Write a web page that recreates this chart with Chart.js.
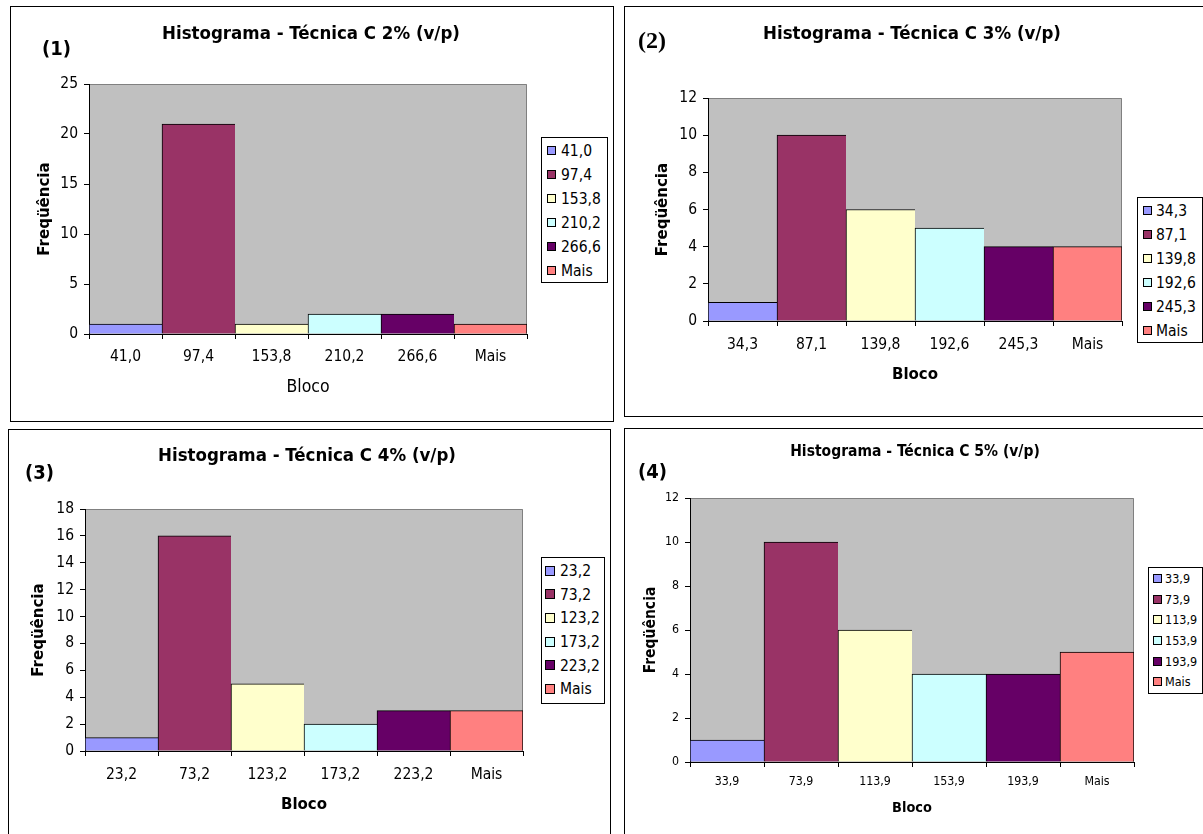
<!DOCTYPE html>
<html>
<head>
<meta charset="utf-8">
<script src="https://cdn.jsdelivr.net/npm/chart.js@4"></script>
<style>
  body { margin: 0; background: #fff; width: 1203px; height: 834px; overflow: hidden; position: relative; font-family: "DejaVu Sans Condensed", "DejaVu Sans", sans-serif; color: #000; }
  .panel { position: absolute; border: 1px solid #000; box-sizing: border-box; }
  .panel canvas { position: absolute; left: -1px; top: -1px; }
  .titulo { position: absolute; font-weight: bold; white-space: nowrap; line-height: 1; transform: translate(-50%, -50%); }
  .num { position: absolute; font-weight: bold; white-space: nowrap; line-height: 1; transform: translateY(-50%); }
  .legenda { position: absolute; border: 1px solid #000; background: #fff; box-sizing: border-box; }
  .legenda div { white-space: nowrap; }
  .legenda span { display: inline-block; border: 1px solid #000; box-sizing: border-box; vertical-align: middle; position: relative; top: -1px; }
</style>
</head>
<body>
<script>
// cores padrão do Excel para cada bloco
const cores = ['#9999FF', '#993366', '#FFFFCC', '#CCFFFF', '#660066', '#FF8080'];

const blocos1 = ['41,0', '97,4', '153,8', '210,2', '266,6', 'Mais'];
const freq1 = [1, 21, 1, 2, 2, 1];

const blocos2 = ['34,3', '87,1', '139,8', '192,6', '245,3', 'Mais'];
const freq2 = [1, 10, 6, 5, 4, 4];

const blocos3 = ['23,2', '73,2', '123,2', '173,2', '223,2', 'Mais'];
const freq3 = [1, 16, 5, 2, 3, 3];

const blocos4 = ['33,9', '73,9', '113,9', '153,9', '193,9', 'Mais'];
const freq4 = [1, 10, 6, 4, 4, 5];

const yMax = [25, 12, 18, 12];
const yStep = [5, 2, 2, 2];

const titulos = [
  'Histograma - Técnica C 2% (v/p)',
  'Histograma - Técnica C 3% (v/p)',
  'Histograma - Técnica C 4% (v/p)',
  'Histograma - Técnica C 5% (v/p)'
];
const numeros = ['(1)', '(2)', '(3)', '(4)'];

const FONTE = '"DejaVu Sans Condensed", "DejaVu Sans", sans-serif';

// posição de cada quadro na página
const layout = [
  { box: [10, 6, 604, 416], plot: [79, 78, 517, 328], tick: 15.5, tickPad: 9,
    xt: { size: 17.5, weight: 'normal', pad: 24 }, yt: { size: 16.7, pad: 25 },
    title: { x: 311, y: 33, size: 18.5 },
    num: { x: 42, y: 48, font: 'bold 20px ' + FONTE },
    legend: { x: 541, y: 137, w: 67, h: 146, row: 24, pad: 1, font: 15.5, mark: 9, ml: 5, gap: 5 } },
  { box: [624, 6, 587, 411], plot: [84, 92, 498, 315], tick: 15.5, tickPad: 10,
    xt: { size: 16.7, weight: 'bold', pad: 32 }, yt: { size: 16.7, pad: 29 },
    title: { x: 912, y: 33, size: 18.5 },
    num: { x: 638, y: 40, font: 'bold 24px "Liberation Serif"' },
    legend: { x: 1137, y: 197, w: 66, h: 146, row: 24, pad: 1, font: 15.5, mark: 9, ml: 5, gap: 4 } },
  { box: [8, 429, 603, 412], plot: [77, 80, 515, 322], tick: 15.5, tickPad: 10,
    xt: { size: 16.7, weight: 'bold', pad: 26 }, yt: { size: 16.7, pad: 21 },
    title: { x: 307, y: 455, size: 18.5 },
    num: { x: 25, y: 472, font: 'bold 20px ' + FONTE },
    legend: { x: 541, y: 557, w: 64, h: 147, row: 23.7, pad: 2, font: 15.5, mark: 10, ml: 3, gap: 5 } },
  { box: [624, 428, 587, 413], plot: [66, 70, 510, 334], tick: 12.3, tickPad: 7,
    xt: { size: 14.4, weight: 'bold', pad: 24 }, yt: { size: 15.5, pad: 18 },
    title: { x: 915, y: 452, size: 15.5 },
    num: { x: 638, y: 471, font: 'bold 20px ' + FONTE },
    legend: { x: 1148, y: 567, w: 55, h: 127, row: 20.7, pad: 1, font: 12.5, mark: 9, ml: 4, gap: 3 } }
];

Chart.defaults.font.family = FONTE;
Chart.defaults.color = '#000';

// área de plotagem cinza com contorno
const fundo = {
  id: 'fundo',
  beforeDraw(chart) {
    const { ctx, chartArea: a } = chart;
    ctx.save();
    ctx.fillStyle = '#C0C0C0';
    ctx.fillRect(a.left, a.top, a.width, a.height);
    ctx.strokeStyle = '#808080';
    ctx.lineWidth = 1;
    ctx.beginPath();
    ctx.moveTo(a.left, a.top + 0.5);
    ctx.lineTo(a.right - 0.5, a.top + 0.5);
    ctx.lineTo(a.right - 0.5, a.bottom);
    ctx.stroke();
    ctx.restore();
  }
};

function caixa(cls, x, y) {
  const el = document.createElement('div');
  el.className = cls;
  el.style.left = x + 'px';
  el.style.top = y + 'px';
  document.body.appendChild(el);
  return el;
}

function histograma(i, blocos, freq) {
  const g = layout[i];
  const [bx, by, bw, bh] = g.box;
  const [pl, pt, pr, pb] = g.plot;

  const panel = caixa('panel', bx, by);
  panel.style.width = bw + 'px';
  panel.style.height = bh + 'px';
  const canvas = document.createElement('canvas');
  canvas.width = bw;
  canvas.height = bh;
  panel.appendChild(canvas);

  new Chart(canvas, {
    type: 'bar',
    data: {
      labels: blocos,
      datasets: [{
        data: freq,
        backgroundColor: cores,
        borderColor: '#000',
        borderWidth: c => ({ left: 1, top: 1, right: c.dataIndex === freq.length - 1 ? 1 : 0, bottom: 0 }),
        categoryPercentage: 1,
        barPercentage: 1
      }]
    },
    options: {
      responsive: false,
      animation: false,
      layout: { padding: { left: 0, top: pt, right: bw - pr, bottom: 0 } },
      plugins: { legend: { display: false }, tooltip: { enabled: false } },
      scales: {
        x: {
          offset: true,
          grid: { offset: true, drawOnChartArea: false, drawTicks: true, tickLength: 5, color: '#000' },
          border: { color: '#000' },
          ticks: { font: { size: g.tick }, color: '#000', padding: g.tickPad, maxRotation: 0, autoSkip: false },
          title: { display: true, text: 'Bloco', color: '#000',
                   font: { size: g.xt.size, weight: g.xt.weight }, padding: { top: 0, bottom: g.xt.pad } },
          afterFit: s => { s.height = bh - pb; }
        },
        y: {
          min: 0,
          max: yMax[i],
          grid: { drawOnChartArea: false, drawTicks: true, tickLength: 5, color: '#000' },
          border: { color: '#000' },
          ticks: { stepSize: yStep[i], font: { size: g.tick }, color: '#000', padding: 6 },
          title: { display: true, text: 'Freqüência', color: '#000',
                   font: { size: g.yt.size, weight: 'bold' }, padding: { top: g.yt.pad, bottom: 0 } },
          afterFit: s => { s.width = pl; }
        }
      }
    },
    plugins: [fundo]
  });

  const t = caixa('titulo', g.title.x, g.title.y);
  t.style.fontSize = g.title.size + 'px';
  t.textContent = titulos[i];

  const n = caixa('num', g.num.x, g.num.y);
  n.style.font = g.num.font;
  n.style.lineHeight = '1';
  n.textContent = numeros[i];

  // legenda com um quadrado por bloco
  const L = g.legend;
  const leg = caixa('legenda', L.x, L.y);
  leg.style.width = L.w + 'px';
  leg.style.height = L.h + 'px';
  leg.style.paddingTop = L.pad + 'px';
  leg.style.fontSize = L.font + 'px';
  blocos.forEach((b, k) => {
    const row = document.createElement('div');
    row.style.height = L.row + 'px';
    row.style.lineHeight = L.row + 'px';
    row.style.paddingLeft = L.ml + 'px';
    const sw = document.createElement('span');
    sw.style.width = L.mark + 'px';
    sw.style.height = L.mark + 'px';
    sw.style.background = cores[k];
    sw.style.marginRight = L.gap + 'px';
    row.appendChild(sw);
    row.appendChild(document.createTextNode(b));
    leg.appendChild(row);
  });
}

histograma(0, blocos1, freq1);
histograma(1, blocos2, freq2);
histograma(2, blocos3, freq3);
histograma(3, blocos4, freq4);
</script>
</body>
</html>
